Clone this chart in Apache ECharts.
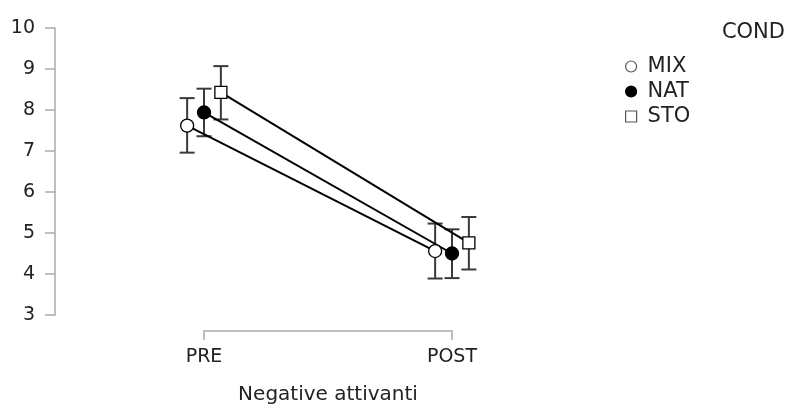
<!DOCTYPE html>
<html>
<head>
<meta charset="utf-8">
<script src="https://cdn.jsdelivr.net/npm/echarts@6/dist/echarts.min.js"></script>
<style>html,body{margin:0;padding:0;background:#fff}#c{width:788px;height:409px}</style>
</head>
<body>
<div id="c"></div>
<script>
const categories = ['PRE', 'POST'];
const seriesNames = ['MIX', 'NAT', 'STO'];
const yTicks = [3, 4, 5, 6, 7, 8, 9, 10];

const mixMean = [7.62, 4.56];
const mixLow  = [6.96, 3.89];
const mixHigh = [8.29, 5.23];

const natMean = [7.94, 4.50];
const natLow  = [7.36, 3.90];
const natHigh = [8.52, 5.09];

const stoMean = [8.43, 4.76];
const stoLow  = [7.77, 4.11];
const stoHigh = [9.07, 5.39];

const FONT = 'DejaVu Sans';
const dodge = 0.068;
const groups = [
  {name: 'MIX', mean: mixMean, low: mixLow, high: mixHigh, off: -dodge, symbol: 'circle', size: 13, fill: '#ffffff'},
  {name: 'NAT', mean: natMean, low: natLow, high: natHigh, off: 0, symbol: 'circle', size: 13, fill: '#000000'},
  {name: 'STO', mean: stoMean, low: stoLow, high: stoHigh, off: dodge, symbol: 'rect', size: 12, fill: '#ffffff'}
];

const series = [];
groups.forEach(g => {
  series.push({
    name: g.name + '-err', type: 'custom', xAxisIndex: 0, yAxisIndex: 0, z: 1,
    data: categories.map((c, i) => [i + g.off, g.low[i], g.high[i]]),
    encode: {x: 0, y: [1, 2]},
    renderItem: function (params, api) {
      const x = api.value(0), lo = api.value(1), hi = api.value(2);
      const a = api.coord([x, lo]), b = api.coord([x, hi]);
      const hw = 7.5;
      const st = {stroke: '#3a3a3a', lineWidth: 2};
      return {type: 'group', children: [
        {type: 'line', shape: {x1: a[0], y1: a[1], x2: b[0], y2: b[1]}, style: st},
        {type: 'line', shape: {x1: a[0] - hw, y1: a[1], x2: a[0] + hw, y2: a[1]}, style: st},
        {type: 'line', shape: {x1: b[0] - hw, y1: b[1], x2: b[0] + hw, y2: b[1]}, style: st}
      ]};
    }
  });
});
groups.forEach(g => {
  series.push({
    name: g.name + '-line', type: 'line', xAxisIndex: 0, yAxisIndex: 0, z: 2,
    showSymbol: false, symbol: 'none', silent: true,
    lineStyle: {color: '#000', width: 2},
    data: categories.map((c, i) => [i + g.off, g.mean[i]])
  });
});
groups.forEach(g => {
  series.push({
    name: g.name, type: 'scatter', xAxisIndex: 0, yAxisIndex: 0, z: 3,
    symbol: g.symbol, symbolSize: g.size,
    itemStyle: {color: g.fill, borderColor: '#000', borderWidth: 1.3, opacity: 1},
    data: categories.map((c, i) => [i + g.off, g.mean[i]])
  });
});

const chart = echarts.init(document.getElementById('c'));
chart.setOption({
  animation: false,
  backgroundColor: '#ffffff',
  textStyle: {fontFamily: FONT},
  title: {
    text: 'COND', right: -2, top: 17,
    textStyle: {fontFamily: FONT, fontSize: 21, fontWeight: 'normal', color: '#222'}
  },
  legend: {
    orient: 'vertical', left: 620, top: 51, itemGap: 4,
    itemWidth: 11, itemHeight: 11,
    textStyle: {fontFamily: FONT, fontSize: 21, color: '#222', padding: [0, 0, 0, 6]},
    data: [
      {name: 'MIX', icon: 'circle', itemStyle: {color: '#fff', borderColor: '#555', borderWidth: 1.2}},
      {name: 'NAT', icon: 'circle', itemStyle: {color: '#000', borderColor: '#000', borderWidth: 1.2}},
      {name: 'STO', icon: 'rect', itemStyle: {color: '#fff', borderColor: '#555', borderWidth: 1.2}}
    ]
  },
  grid: [
    {left: 80, width: 496, top: 28, height: 287},
    {left: 204, width: 248, top: 320, height: 11}
  ],
  xAxis: [
    {gridIndex: 0, type: 'value', min: -0.5, max: 1.5, show: false},
    {
      gridIndex: 1, type: 'category', data: categories, boundaryGap: false,
      position: 'bottom',
      axisLine: {show: true, onZero: false, lineStyle: {color: '#aaaaaa', width: 1.5}},
      axisTick: {show: true, length: 9, lineStyle: {color: '#aaaaaa', width: 1.5}},
      axisLabel: {fontFamily: FONT, fontSize: 19, color: '#222', margin: 17},
      name: 'Negative attivanti', nameLocation: 'middle', nameGap: 54,
      nameTextStyle: {fontFamily: FONT, fontSize: 20, color: '#222'},
      splitLine: {show: false}
    }
  ],
  yAxis: [
    {
      gridIndex: 0, type: 'value', min: yTicks[0], max: yTicks[yTicks.length - 1], interval: 1,
      offset: 25,
      axisLine: {show: true, onZero: false, lineStyle: {color: '#aaaaaa', width: 1.5}},
      axisTick: {show: true, length: 10, lineStyle: {color: '#aaaaaa', width: 1.5}},
      axisLabel: {fontFamily: FONT, fontSize: 19, color: '#222', margin: 20},
      splitLine: {show: false}
    },
    {gridIndex: 1, type: 'value', show: false}
  ],
  series: series
});
</script>
</body>
</html>
